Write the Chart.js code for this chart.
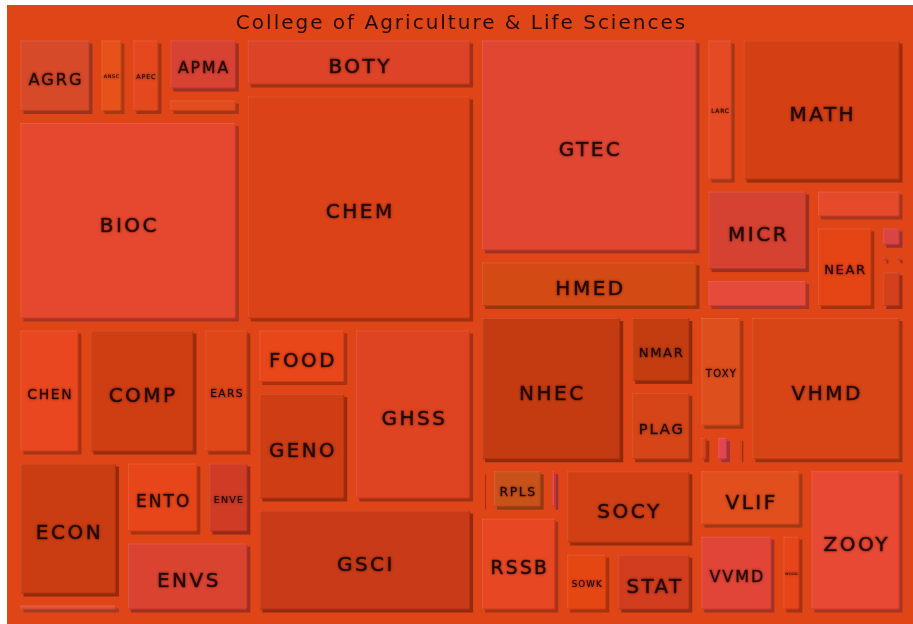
<!DOCTYPE html>
<html>
<head>
<meta charset="utf-8">
<script src="https://cdn.jsdelivr.net/npm/chart.js@4.4.1/dist/chart.umd.min.js"></script>
<style>
  html, body { margin: 0; padding: 0; background: #fff; }
  .wrap { position: absolute; left: 7px; top: 5px; width: 906px; height: 619px; background: #e04517; }
</style>
</head>
<body>
<div class="wrap"><canvas id="tree"></canvas></div>
<script>
const chartTitle = 'College of Agriculture & Life Sciences';

// departments, in the order the map lays them out (alphabetical)
const codes = ['AGRG','ANSC','APEC','APMA','','BIOC','BOTY','CHEM','CHEN','COMP',
  'EARS','ECON','','ENTO','ENVE','ENVS','FOOD','GENO','GHSS','GSCI',
  'GTEC','HMED','LARC','MATH','MICR','','','NEAR','','',
  '','','NHEC','NMAR','PLAG','','RPLS','','RSSB','SOCY',
  'SOWK','STAT','TOXY','','','','VHMD','VLIF','VVMD','WOOD','ZOOY'];

const counts = [668, 264, 305, 465, 174, 4721, 1313, 5487, 931, 1530,
  718, 1527, 172, 652, 400, 1026, 616, 1130, 2268, 2475,
  5028, 1260, 532, 2538, 982, 405, 345, 584, 80, 22,
  22, 129, 2303, 518, 542, 57, 278, 69, 876, 1119,
  342, 556, 612, 57, 69, 45, 2441, 721, 697, 238, 1505];

const shades = ['#d64a2a','#e6521a','#e3481f','#d84233','#e24c1e','#e5482f','#dd4327','#dc4217','#e8471f','#cf3d12',
  '#df4618','#ca3c11','#e05235','#e6461a','#cf3b25','#db4331','#e8471a','#cf3d14','#de4421','#c93b18',
  '#e14633','#d44a15','#e44b25','#d43f14','#d54231','#e54a3b','#e54a2b','#e54515','#d94444','#d84030',
  '#d84030','#d4401e','#c43b12','#c43d10','#d54518','#e0461c','#c9521a','#d8404a','#e74823','#d14014',
  '#e54713','#d13d1e','#dd4f1d','#d8441a','#e24650','#d8441a','#d74517','#e14f1d','#e14537','#e6451a','#e74934'];

// balanced binary split: cut the ordered list where the two sums are closest,
// then divide the rectangle along its longer side
function split(list, x, y, w, h, pw, ph, out) {
  if (list.length === 1) { out.push({ i: list[0].i, x, y, w, h }); return; }
  const total = list.reduce((s, d) => s + d.v, 0);
  let best = 1, bestDiff = Infinity, run = 0;
  for (let k = 1; k < list.length; k++) {
    run += list[k - 1].v;
    const diff = Math.abs(2 * run - total);
    if (diff < bestDiff) { bestDiff = diff; best = k; }
  }
  const a = list.slice(0, best), b = list.slice(best);
  const f = a.reduce((s, d) => s + d.v, 0) / total;
  if (w * pw >= h * ph) {
    split(a, x, y, w * f, h, pw, ph, out);
    split(b, x + w * f, y, w * (1 - f), h, pw, ph, out);
  } else {
    split(a, x, y, w, h * f, pw, ph, out);
    split(b, x, y + h * f, w, h * (1 - f), pw, ph, out);
  }
}

function darker(hex, k) {
  const n = parseInt(hex.slice(1), 16);
  const r = Math.round(((n >> 16) & 255) * k), g = Math.round(((n >> 8) & 255) * k), bl = Math.round((n & 255) * k);
  return `rgb(${r},${g},${bl})`;
}

const treemapCells = {
  id: 'treemapCells',
  beforeDraw(chart) {
    chart.ctx.letterSpacing = '2px';
  },
  afterDatasetsDraw(chart) {
    const ds = chart.data.datasets[0];
    const xs = chart.scales.x, ys = chart.scales.y;
    const list = ds.values.map((v, i) => ({ v, i }));
    const cells = [];
    split(list, 0, 0, 1, 1, chart.chartArea.width, chart.chartArea.height, cells);
    const ctx = chart.ctx;
    ctx.save();
    cells.forEach(c => {
      const x0 = xs.getPixelForValue(c.x), x1 = xs.getPixelForValue(c.x + c.w);
      const y0 = ys.getPixelForValue(c.y), y1 = ys.getPixelForValue(c.y + c.h);
      const col = ds.colors[c.i];
      const fx = x0 + 4.5, fy = y0 + 4.5;
      const fw = Math.max(0, x1 - x0 - 12), fh = Math.max(0, y1 - y0 - 12);
      // drop shadow
      ctx.fillStyle = darker(col, 0.72);
      ctx.fillRect(fx + 3, fy + 3, Math.max(1, fw), Math.max(1, fh));
      if (fw < 1 || fh < 1) return;
      ctx.fillStyle = col;
      ctx.fillRect(fx, fy, fw, fh);
      // bevel
      ctx.fillStyle = 'rgba(255,255,255,0.10)';
      ctx.fillRect(fx, fy, fw, 1);
      ctx.fillRect(fx, fy, 1, fh);
      ctx.fillStyle = 'rgba(90,10,0,0.18)';
      ctx.fillRect(fx, fy + fh - 1, fw, 1);
      ctx.fillRect(fx + fw - 1, fy, 1, fh);

      const label = ds.labels[c.i];
      if (!label) return;
      ctx.font = '20px "DejaVu Sans"';
      ctx.letterSpacing = '0px';
      const natural = ctx.measureText(label).width + 2.5 * (label.length - 1);
      const s = Math.min(1, 0.77 * fw / natural);
      const size = 20 * s;
      if (size < 2) return;
      ctx.font = size.toFixed(2) + 'px "DejaVu Sans"';
      ctx.letterSpacing = (2.5 * s).toFixed(2) + 'px';
      ctx.textAlign = 'center';
      ctx.textBaseline = 'alphabetic';
      ctx.fillStyle = '#220801';
      ctx.strokeStyle = 'rgba(34,8,1,0.6)';
      ctx.lineWidth = 0.5 * s;
      ctx.shadowColor = 'rgba(50,8,0,0.55)';
      ctx.shadowBlur = 2.5;
      const tx = fx + fw / 2 + 1.25 * s, ty = fy + fh / 2 + 0.55 * size;
      ctx.fillText(label, tx, ty);
      ctx.strokeText(label, tx, ty);
      ctx.shadowBlur = 0;
      ctx.shadowColor = 'transparent';
    });
    ctx.restore();
  }
};

new Chart(document.getElementById('tree'), {
  type: 'scatter',
  data: {
    datasets: [{
      data: [],
      values: counts,
      labels: codes,
      colors: shades
    }]
  },
  options: {
    responsive: true,
    maintainAspectRatio: false,
    animation: false,
    layout: { padding: { left: 9, right: 6, top: 0, bottom: 7 } },
    scales: {
      x: { type: 'linear', min: 0, max: 1, display: false },
      y: { type: 'linear', min: 0, max: 1, reverse: true, display: false }
    },
    plugins: {
      legend: { display: false },
      tooltip: { enabled: false },
      title: {
        display: true,
        text: chartTitle,
        color: '#220801',
        font: { family: 'DejaVu Sans', size: 20, weight: 'normal' },
        padding: { top: 7, bottom: 0 }
      }
    }
  },
  plugins: [treemapCells]
});
</script>
</body>
</html>
